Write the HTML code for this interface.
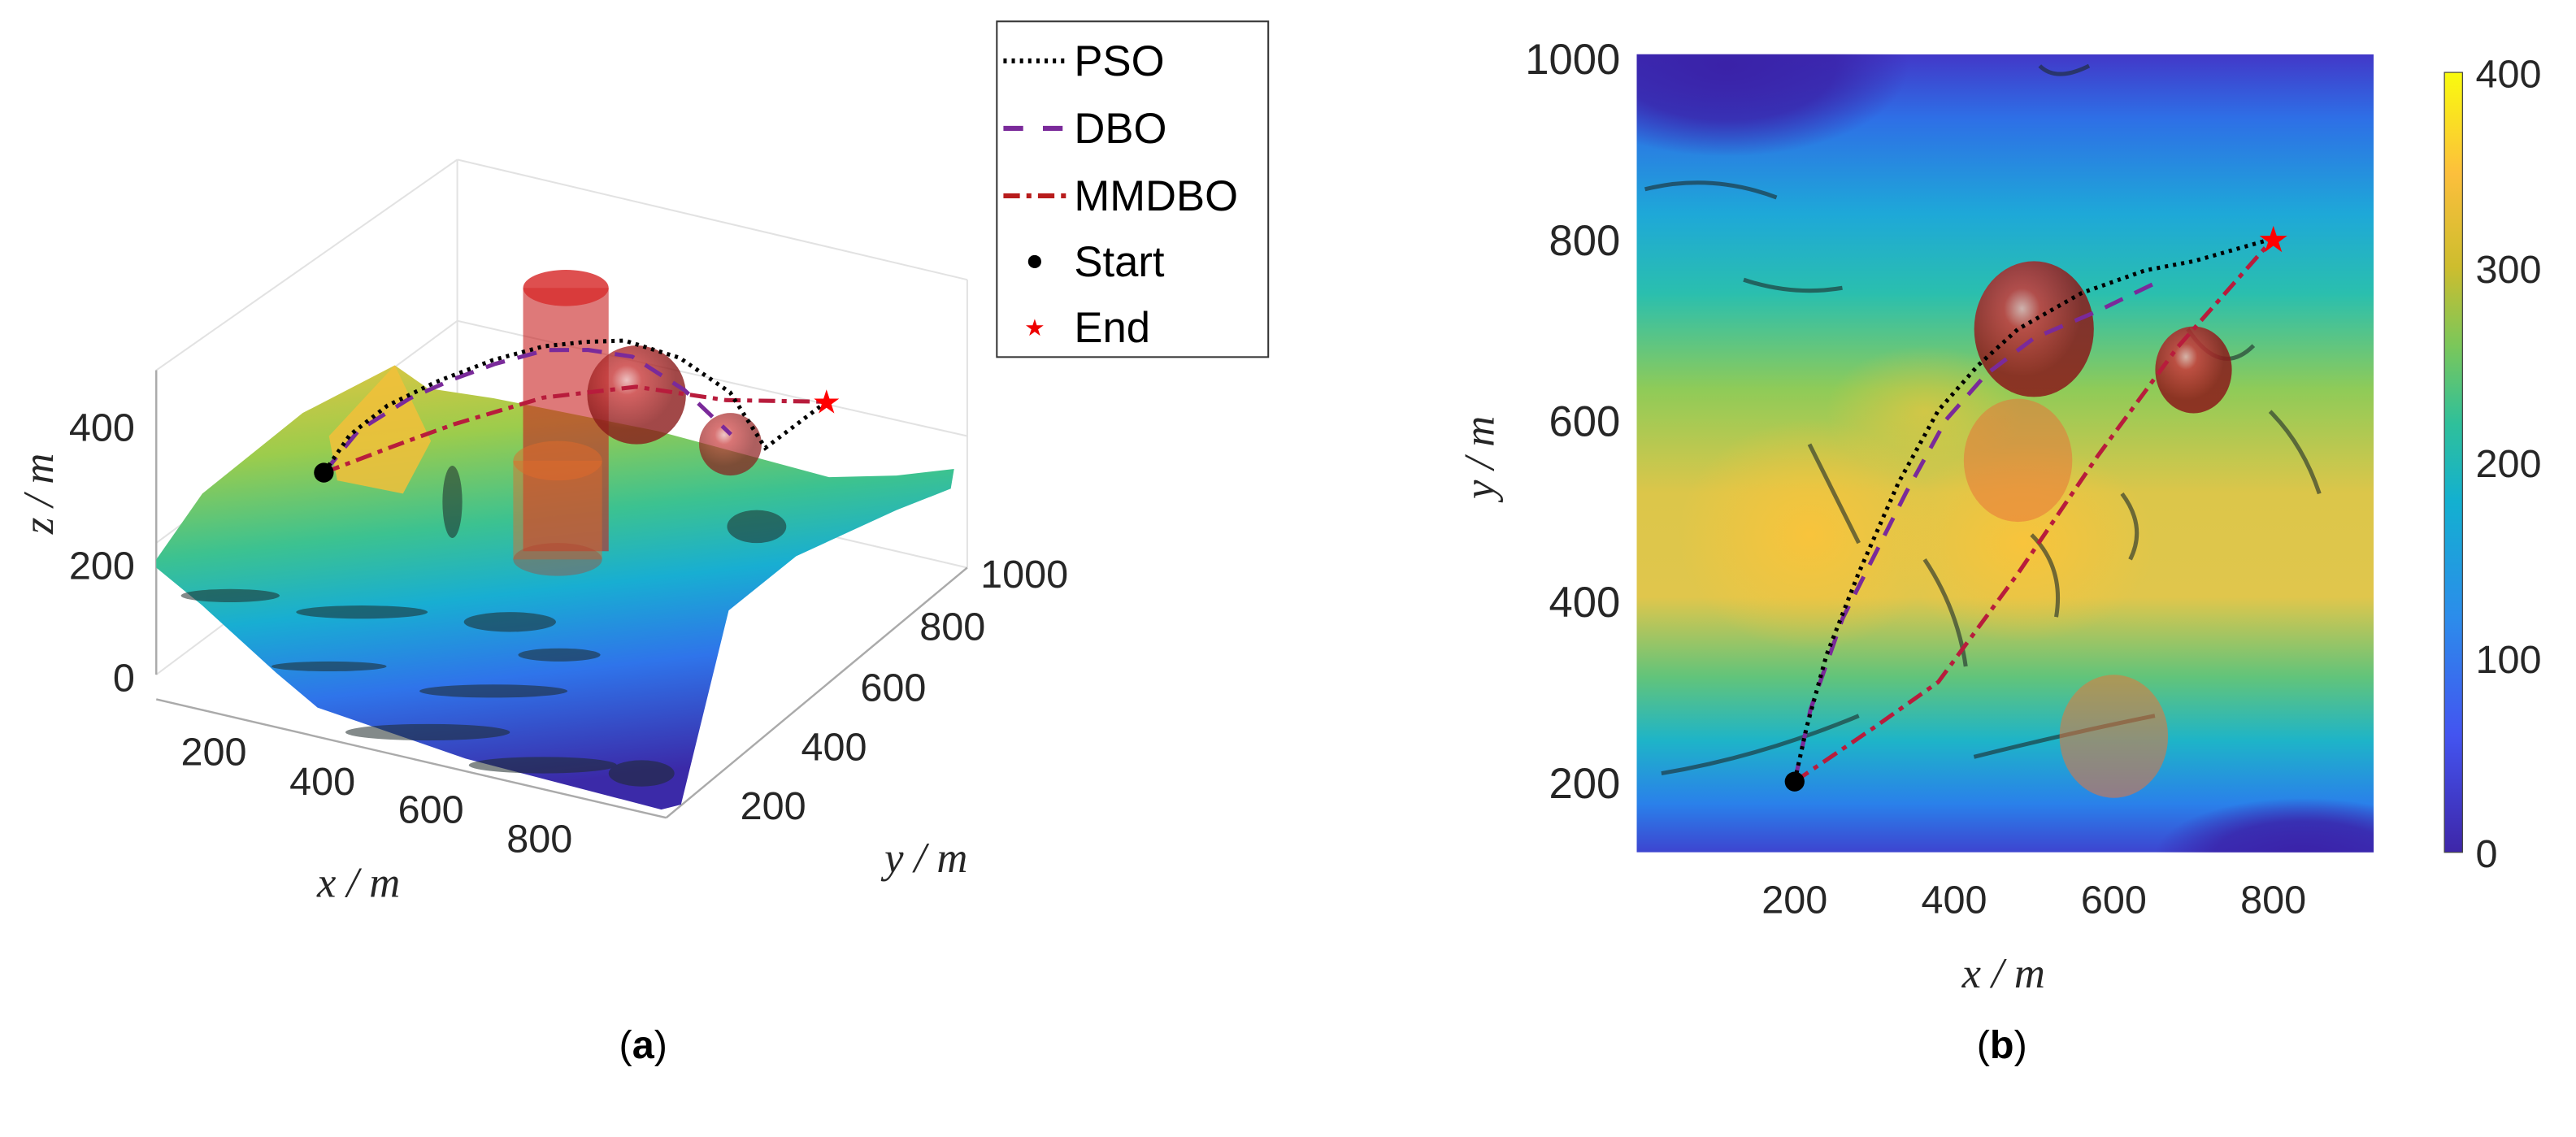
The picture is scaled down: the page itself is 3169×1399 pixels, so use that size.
<!DOCTYPE html>
<html><head><meta charset="utf-8"><style>
html,body{margin:0;padding:0;background:#fff;}
svg{display:block;}
text{font-family:"Liberation Sans",sans-serif;}
.tk{font-size:24px;fill:#262626;}
.lab{font-family:"Liberation Serif",serif;font-style:italic;font-size:26px;fill:#262626;}
</style></head><body>
<svg id="fig" width="3169" height="1399" viewBox="0 0 1566 691" preserveAspectRatio="none" xmlns="http://www.w3.org/2000/svg">
<defs>
<linearGradient id="hm" x1="0" y1="0" x2="0" y2="1">
<stop offset="0" stop-color="#4238c8"/><stop offset="0.08" stop-color="#2e6fe6"/>
<stop offset="0.2" stop-color="#1ea8d8"/><stop offset="0.3" stop-color="#2abfae"/>
<stop offset="0.42" stop-color="#8fcb58"/><stop offset="0.55" stop-color="#dcc64a"/>
<stop offset="0.68" stop-color="#e0c64c"/><stop offset="0.78" stop-color="#62c47a"/>
<stop offset="0.86" stop-color="#1eb4c8"/><stop offset="0.94" stop-color="#2a80ea"/>
<stop offset="1" stop-color="#3d45d0"/></linearGradient>
<radialGradient id="blob"><stop offset="0" stop-color="#fbc43a" stop-opacity="0.9"/><stop offset="1" stop-color="#fbc43a" stop-opacity="0"/></radialGradient>
<radialGradient id="dark"><stop offset="0" stop-color="#3a22a8" stop-opacity="1"/><stop offset="0.6" stop-color="#3a22a8" stop-opacity="0.8"/><stop offset="1" stop-color="#3a22a8" stop-opacity="0"/></radialGradient>
<linearGradient id="cb" x1="0" y1="1" x2="0" y2="0">
<stop offset="0" stop-color="#3e26a8"/><stop offset="0.15" stop-color="#4354f0"/>
<stop offset="0.3" stop-color="#2c8ceb"/><stop offset="0.45" stop-color="#13b0d0"/>
<stop offset="0.55" stop-color="#2fc09a"/><stop offset="0.65" stop-color="#7bc75a"/>
<stop offset="0.75" stop-color="#cdbd2e"/><stop offset="0.87" stop-color="#fcbf3c"/>
<stop offset="1" stop-color="#f9fb0e"/></linearGradient>
<linearGradient id="surf" x1="0" y1="0" x2="0.2" y2="1">
<stop offset="0" stop-color="#e8c440"/><stop offset="0.22" stop-color="#9ccc4c"/>
<stop offset="0.42" stop-color="#3cc290"/><stop offset="0.58" stop-color="#18aed2"/>
<stop offset="0.76" stop-color="#2f74ea"/><stop offset="1" stop-color="#3b2aa8"/></linearGradient>
<radialGradient id="sph" cx="0.4" cy="0.35"><stop offset="0" stop-color="#e8b0b0"/><stop offset="0.3" stop-color="#c83a3a"/><stop offset="1" stop-color="#8a1a1a"/></radialGradient>
<clipPath id="hmclip"><rect x="995" y="33" width="448" height="485"/></clipPath>
</defs>

<!-- ===== Panel (a) 3D ===== -->
<g id="panel-a">
<g stroke="#e2e2e2" stroke-width="1" fill="none">
<line x1="95" y1="225" x2="278" y2="97"/><line x1="278" y1="97" x2="588" y2="170"/>
<line x1="278" y1="97" x2="278" y2="273"/><line x1="278" y1="273" x2="588" y2="345"/>
<line x1="95" y1="330" x2="278" y2="195"/><line x1="278" y1="195" x2="588" y2="265"/>
<line x1="588" y1="170" x2="588" y2="345"/>
<line x1="95" y1="410" x2="278" y2="273"/>
</g>
<line x1="95" y1="225" x2="95" y2="410" stroke="#aaa" stroke-width="1.2"/>
<line x1="95" y1="425" x2="405" y2="497" stroke="#aaa" stroke-width="1.2"/>
<line x1="405" y1="497" x2="588" y2="345" stroke="#aaa" stroke-width="1.2"/>
<polygon fill="url(#surf)" points="95,345 123,368 168,409 193,430 283,461 402,492 414,489 443,371 484,338 545,310 578,297 580,285 545,289 504,290 400,262 300,242 260,236 240,222 184,251 123,300 95,340"/>
<polygon fill="#f2c03a" points="200,265 240,222 262,268 245,300 205,292" opacity="0.85"/>
<g fill="#1d2a2a" opacity="0.55">
<ellipse cx="140" cy="362" rx="30" ry="4"/><ellipse cx="220" cy="372" rx="40" ry="4"/><ellipse cx="310" cy="378" rx="28" ry="6"/>
<ellipse cx="200" cy="405" rx="35" ry="3"/><ellipse cx="300" cy="420" rx="45" ry="4"/><ellipse cx="260" cy="445" rx="50" ry="5"/>
<ellipse cx="330" cy="465" rx="45" ry="5"/><ellipse cx="390" cy="470" rx="20" ry="8"/><ellipse cx="275" cy="305" rx="6" ry="22"/>
<ellipse cx="460" cy="320" rx="18" ry="10"/><ellipse cx="340" cy="398" rx="25" ry="4"/>
</g>
<g>
<rect x="318" y="175" width="52" height="160" fill="#c82020" opacity="0.6"/>
<ellipse cx="344" cy="175" rx="26" ry="11" fill="#d83030" opacity="0.85"/>
<rect x="312" y="280" width="54" height="60" fill="#e26a2a" opacity="0.45"/>
<ellipse cx="339" cy="280" rx="27" ry="12" fill="#e26a2a" opacity="0.5"/>
<ellipse cx="339" cy="340" rx="27" ry="10" fill="#b04030" opacity="0.4"/>
</g>
<circle cx="387" cy="240" r="30" fill="url(#sph)" opacity="0.8"/>
<circle cx="444" cy="270" r="19" fill="url(#sph)" opacity="0.7"/>
<g id="paths3d"></g>
<g class="tk">
<text x="82" y="268" text-anchor="end">400</text><text x="82" y="352" text-anchor="end">200</text><text x="82" y="420" text-anchor="end">0</text>
</g>
<g class="tk">
<text x="130" y="465" text-anchor="middle">200</text><text x="196" y="483" text-anchor="middle">400</text>
<text x="262" y="500" text-anchor="middle">600</text><text x="328" y="518" text-anchor="middle">800</text>
</g>
<g class="tk">
<text x="450" y="498">200</text><text x="487" y="462">400</text><text x="523" y="426">600</text><text x="559" y="389">800</text><text x="596" y="357">1000</text>
</g>
<text class="lab" x="218" y="545" text-anchor="middle">x / m</text>
<text class="lab" x="563" y="530" text-anchor="middle">y / m</text>
<text class="lab" transform="translate(32,300) rotate(-90)" text-anchor="middle">z / m</text>
</g>

<!-- Legend -->
<g>
<rect x="606" y="13" width="165" height="204" fill="#fff" stroke="#333" stroke-width="1"/>
<g><line x1="610" y1="37" x2="648" y2="37" stroke="#000" stroke-width="3" stroke-dasharray="2,3"/><text x="653" y="46" font-size="26">PSO</text></g>
<g><line x1="610" y1="78" x2="648" y2="78" stroke="#7a2a9a" stroke-width="3" stroke-dasharray="12,12"/><text x="653" y="87" font-size="26">DBO</text></g>
<g><line x1="610" y1="119" x2="648" y2="119" stroke="#b81c1c" stroke-width="3" stroke-dasharray="10,4,3,4"/><text x="653" y="128" font-size="26">MMDBO</text></g>
<g><circle cx="629" cy="159" r="4" fill="#000"/><text x="653" y="168" font-size="26">Start</text></g>
<g><text x="629" y="204" font-size="14" fill="#e00" text-anchor="middle">★</text><text x="653" y="208" font-size="26">End</text></g>
</g>

<!-- ===== Panel (b) 2D ===== -->
<g id="panel-b">
<g clip-path="url(#hmclip)">
<rect x="995" y="33" width="448" height="485" fill="url(#hm)"/>
<ellipse cx="1050" cy="40" rx="110" ry="55" fill="url(#dark)"/>
<ellipse cx="1400" cy="520" rx="90" ry="35" fill="url(#dark)"/>
<ellipse cx="1100" cy="325" rx="80" ry="70" fill="url(#blob)"/>
<ellipse cx="1230" cy="330" rx="80" ry="60" fill="url(#blob)"/>
<ellipse cx="1170" cy="250" rx="60" ry="40" fill="url(#blob)" opacity="0.6"/>
<g stroke="#1d2a2a" stroke-width="2.5" fill="none" opacity="0.6">
<path d="M1000,115 q40,-10 80,5"/><path d="M1060,170 q30,10 60,5"/><path d="M1100,270 q15,30 30,60"/>
<path d="M1170,340 q20,30 25,65"/><path d="M1235,325 q20,20 15,50"/><path d="M1290,300 q15,20 5,40"/>
<path d="M1010,470 q60,-10 120,-35"/><path d="M1200,460 q60,-15 110,-25"/><path d="M1240,40 q10,10 30,0"/>
<path d="M1330,200 q20,30 40,10"/><path d="M1380,250 q20,20 30,50"/>
</g>
</g>
<g id="paths2d"></g>
<g class="tk" font-size="26">
<text x="1091" y="555" text-anchor="middle">200</text><text x="1188" y="555" text-anchor="middle">400</text>
<text x="1285" y="555" text-anchor="middle">600</text><text x="1382" y="555" text-anchor="middle">800</text>
</g>
<g class="tk">
<text x="985" y="45" text-anchor="end" font-size="26">1000</text><text x="985" y="155" text-anchor="end" font-size="26">800</text>
<text x="985" y="265" text-anchor="end" font-size="26">600</text><text x="985" y="375" text-anchor="end" font-size="26">400</text>
<text x="985" y="485" text-anchor="end" font-size="26">200</text>
</g>
<text class="lab" x="1218" y="600" text-anchor="middle" font-size="30">x / m</text>
<text class="lab" transform="translate(908,278) rotate(-90)" text-anchor="middle" font-size="30">y / m</text>
<rect x="1486" y="44" width="11" height="474" fill="url(#cb)" stroke="#444" stroke-width="0.6"/>
<g class="tk">
<text x="1505" y="53">400</text><text x="1505" y="172">300</text><text x="1505" y="290">200</text><text x="1505" y="409">100</text><text x="1505" y="527">0</text>
</g>
</g>

<text x="391" y="643" text-anchor="middle" font-family="Liberation Serif,serif" font-size="24">(<tspan font-weight="bold">a</tspan>)</text>
<text x="1217" y="643" text-anchor="middle" font-family="Liberation Serif,serif" font-size="24">(<tspan font-weight="bold">b</tspan>)</text>
</svg>
<script>
// Path data (x, y in metres; z heights for 3D view)
const psoX = [200, 215, 240, 280, 330, 380, 430, 480, 560, 640, 700, 800];
const psoY = [200, 260, 340, 430, 530, 610, 660, 700, 740, 765, 775, 800];
const psoZ = [300, 340, 360, 370, 375, 375, 372, 368, 340, 290, 208, 293];
const dboX = [200, 220, 260, 300, 340, 390, 440, 500, 580, 650];
const dboY = [200, 280, 380, 450, 520, 600, 650, 690, 720, 750];
const dboZ = [300, 340, 360, 370, 375, 375, 365, 350, 300, 230];
const mmX = [200, 300, 380, 480, 580, 680, 800];
const mmY = [200, 260, 310, 430, 560, 680, 800];
const mmZ = [300, 340, 370, 385, 370, 320, 293];
const sphX = [500, 700], sphY = [700, 655], sphR = [75, 48];
const orbX = [480, 600], orbY = [555, 250], orbR = [68, 68];
const startPt = [200, 200, 300], endPt = [800, 800, 293];

const NS = "http://www.w3.org/2000/svg";
// 2D axes
const sx = v => 994 + v * 0.485;
const sy = v => 585 - v * 0.55;
// 3D projection
const px = (x, y, z) => 95 + x * 310 / 950 + y * 183 / 1000;
const py = (x, y, z) => 415 + x * 72 / 950 - y * 152 / 1000 - z * 0.375;

function mk(tag, attrs, parent) {
  const e = document.createElementNS(NS, tag);
  for (const k in attrs) e.setAttribute(k, attrs[k]);
  parent.appendChild(e);
  return e;
}
const g2 = document.getElementById('paths2d');
const g3 = document.getElementById('paths3d');

for (let i = 0; i < orbX.length; i++) {
  const c = mk('ellipse', {cx: sx(orbX[i]), cy: sy(orbY[i]), rx: orbR[i] * 0.485, ry: orbR[i] * 0.55, fill: '#e8743a', opacity: 0.55}, g2);
  
  
}
for (let i = 0; i < sphX.length; i++) {
  const c = mk('ellipse', {cx: sx(sphX[i]), cy: sy(sphY[i]), rx: sphR[i] * 0.485, ry: sphR[i] * 0.55, fill: 'url(#sph)', opacity: 0.85}, g2);
  
  
}
const styles = [
  [dboX, dboY, dboZ, '#7a2a9a', '12,8', 'dbo-path'],
  [mmX, mmY, mmZ, '#b81c3c', '10,4,3,4', 'mmdbo-path'],
  [psoX, psoY, psoZ, '#000', '2,3', 'pso-path']
];
for (const s of styles) {
  const p2 = s[0].map((v, i) => sx(v) + ',' + sy(s[1][i])).join(' ');
  const l2 = mk('polyline', {points: p2, fill: 'none', stroke: s[3], 'stroke-width': 2.5, 'stroke-dasharray': s[4]}, g2);
  
  
  const p3 = s[0].map((v, i) => px(v, s[1][i], s[2][i]) + ',' + py(v, s[1][i], s[2][i])).join(' ');
  const l3 = mk('polyline', {points: p3, fill: 'none', stroke: s[3], 'stroke-width': 2.5, 'stroke-dasharray': s[4]}, g3);
  
  
}
const st2 = mk('circle', {cx: sx(startPt[0]), cy: sy(startPt[1]), r: 6, fill: '#000'}, g2);


const en2 = mk('text', {x: sx(endPt[0]), y: sy(endPt[1]) + 8, 'font-size': 22, fill: '#f00', 'text-anchor': 'middle'}, g2);
en2.textContent = '★';


const st3 = mk('circle', {cx: px(...startPt), cy: py(...startPt), r: 6, fill: '#000'}, g3);


const en3 = mk('text', {x: px(...endPt), y: py(...endPt) + 7, 'font-size': 20, fill: '#f00', 'text-anchor': 'middle'}, g3);
en3.textContent = '★';


</script>
</body></html>
